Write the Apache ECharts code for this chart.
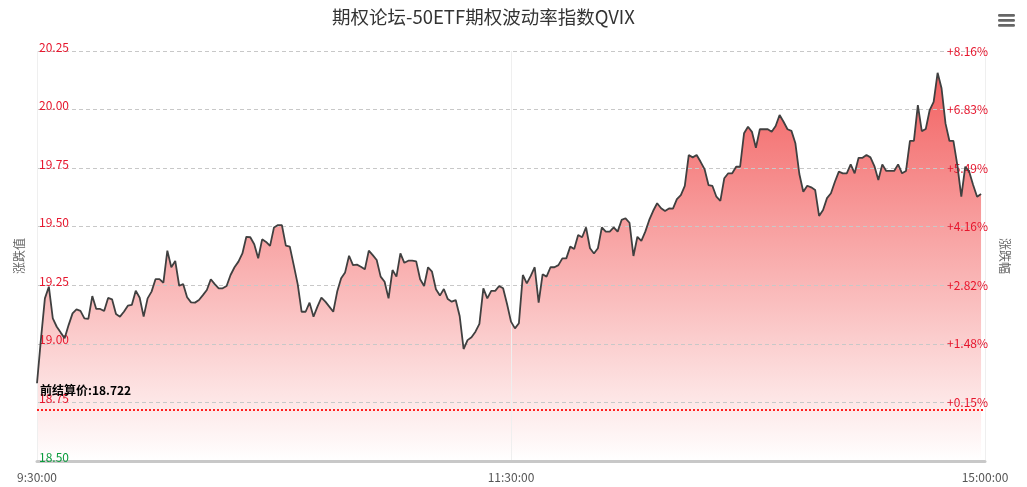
<!DOCTYPE html>
<html>
<head>
<meta charset="utf-8">
<script src="https://cdn.jsdelivr.net/npm/echarts@6/dist/echarts.min.js"></script>
<style>
html,body{margin:0;padding:0;background:#fff;}
#chart{width:1027px;height:487px;}
</style>
</head>
<body>
<div id="chart"></div>
<script>
// ---- data ----
const titleText = '期权论坛-50ETF期权波动率指数QVIX';
const preClose = 18.722;
const yMin = 18.5, yMax = 20.25, yStep = 0.25;
const xLabelsShown = ['9:30:00', '11:30:00', '15:00:00'];

// minute categories: 9:30..11:30, 13:01..15:00 (lunch break merged at 11:30)
const categories = [];
(function () {
  function pad(n) { return (n < 10 ? '0' : '') + n; }
  for (let m = 9 * 60 + 30; m <= 11 * 60 + 30; m++) categories.push(Math.floor(m / 60) + ':' + pad(m % 60) + ':00');
  for (let m = 13 * 60 + 1; m <= 15 * 60; m++) categories.push(Math.floor(m / 60) + ':' + pad(m % 60) + ':00');
})();

const qvixMorning = [
  18.832, 19.02, 19.194, 19.244, 19.109, 19.073, 19.048, 19.024, 19.080, 19.130,
  19.147, 19.141, 19.109, 19.107, 19.204, 19.149, 19.149, 19.140, 19.196, 19.190,
  19.127, 19.116, 19.137, 19.163, 19.166, 19.227, 19.197, 19.116, 19.194, 19.223,
  19.276, 19.276, 19.261, 19.398, 19.327, 19.354, 19.248, 19.255, 19.199, 19.177,
  19.176, 19.187, 19.208, 19.230, 19.276, 19.255, 19.237, 19.237, 19.247, 19.294,
  19.327, 19.351, 19.386, 19.457, 19.455, 19.425, 19.365, 19.446, 19.435, 19.418,
  19.497, 19.507, 19.507, 19.419, 19.415, 19.336, 19.255, 19.137, 19.137, 19.176,
  19.116, 19.159, 19.197, 19.180, 19.159, 19.137, 19.223, 19.280, 19.305, 19.376,
  19.336, 19.338, 19.329, 19.318, 19.398, 19.379, 19.358, 19.287, 19.265, 19.194,
  19.315, 19.287, 19.386, 19.346, 19.355, 19.355, 19.352, 19.276, 19.247, 19.327,
  19.308, 19.233, 19.206, 19.234, 19.191, 19.180, 19.187, 19.119, 18.978, 19.016,
  19.028, 19.052, 19.085, 19.237, 19.194, 19.226, 19.226, 19.247, 19.237, 19.170
];
const qvixAfternoon = [
  19.095, 19.066, 19.088, 19.294, 19.258, 19.290, 19.327, 19.176, 19.297, 19.287,
  19.327, 19.327, 19.336, 19.365, 19.365, 19.415, 19.405, 19.465, 19.455, 19.497,
  19.408, 19.386, 19.408, 19.497, 19.479, 19.479, 19.497, 19.479, 19.529, 19.536,
  19.517, 19.375, 19.457, 19.440, 19.479, 19.529, 19.568, 19.600, 19.579, 19.567,
  19.578, 19.577, 19.618, 19.635, 19.674, 19.806, 19.796, 19.806, 19.777, 19.746,
  19.678, 19.674, 19.628, 19.610, 19.707, 19.728, 19.728, 19.756, 19.756, 19.899,
  19.927, 19.905, 19.837, 19.916, 19.916, 19.916, 19.905, 19.930, 19.977, 19.948,
  19.916, 19.909, 19.856, 19.725, 19.649, 19.675, 19.668, 19.657, 19.546, 19.571,
  19.622, 19.643, 19.692, 19.735, 19.728, 19.728, 19.766, 19.728, 19.794, 19.794,
  19.806, 19.796, 19.759, 19.699, 19.766, 19.738, 19.738, 19.738, 19.766, 19.728,
  19.738, 19.866, 19.866, 20.019, 19.908, 19.917, 19.998, 20.033, 20.157, 20.091,
  19.941, 19.866, 19.866, 19.763, 19.628, 19.756, 19.735, 19.678, 19.628, 19.640
];
const qvix = qvixMorning.concat(qvixAfternoon);

// ---- chart ----
const FONT = '"Microsoft YaHei","Noto Sans CJK SC",sans-serif';
const chart = echarts.init(document.getElementById('chart'), null, { renderer: 'canvas' });

function leftLabelColor(v) { return v < preClose ? '#0a9c3c' : '#e6162d'; }

const option = {
  animation: false,
  backgroundColor: '#fff',
  textStyle: { fontFamily: FONT },
  title: {
    text: titleText,
    left: 327, top: 3,
    textStyle: { fontSize: 18.5, fontWeight: 'normal', color: '#333', fontFamily: FONT }
  },
  graphic: [
    { type: 'rect', right: 12, top: 14, shape: { width: 17, height: 2.7, r: 1.3 }, style: { fill: '#666' } },
    { type: 'rect', right: 12, top: 19, shape: { width: 17, height: 2.7, r: 1.3 }, style: { fill: '#666' } },
    { type: 'rect', right: 12, top: 24, shape: { width: 17, height: 2.7, r: 1.3 }, style: { fill: '#666' } }
  ],
  grid: { left: 37, right: 42, top: 51, bottom: 26, containLabel: false },
  xAxis: {
    type: 'category',
    data: categories,
    boundaryGap: false,
    z: 3,
    axisLine: { show: true, lineStyle: { color: '#c8c8c8', width: 3 } },
    axisTick: { show: false },
    axisLabel: {
      interval: function (i) { return xLabelsShown.indexOf(categories[i]) >= 0 || i === categories.length - 1; },
      formatter: function (v, i) { return i === categories.length - 1 ? xLabelsShown[2] : v; },
      color: '#555', fontSize: 12, margin: 10, fontFamily: FONT, showMinLabel: true, showMaxLabel: true
    },
    splitLine: {
      show: true,
      interval: function (i) { return i === 0 || categories[i] === xLabelsShown[1] || i === categories.length - 1; },
      lineStyle: { color: '#efefef', width: 1 }
    }
  },
  yAxis: [
    {
      type: 'value', min: yMin, max: yMax, interval: yStep, z: 3,
      name: '涨跌值', nameLocation: 'middle', nameGap: 12,
      nameTextStyle: { color: '#666', fontSize: 12, fontFamily: FONT },
      axisLine: { show: false }, axisTick: { show: false },
      axisLabel: {
        inside: true, margin: 2, verticalAlign: 'bottom', lineHeight: 8,
        fontSize: 12, fontFamily: FONT,
        formatter: function (v) { return v.toFixed(2); },
        color: function (v) { return leftLabelColor(Number(v)); }
      },
      splitLine: { show: true, lineStyle: { color: '#c8c8c8', type: [4, 3], width: 1 } }
    },
    {
      type: 'value', min: yMin, max: yMax, interval: yStep, position: 'right', z: 3,
      name: '涨跌幅', nameLocation: 'middle', nameGap: 12, nameRotate: -90,
      nameTextStyle: { color: '#666', fontSize: 12, fontFamily: FONT },
      axisLine: { show: false }, axisTick: { show: false },
      axisLabel: {
        inside: true, margin: -3, fontSize: 12, fontFamily: FONT, color: '#e6162d',
        formatter: function (v) {
          if (v < preClose) return '';
          return '+' + ((v - preClose) / preClose * 100).toFixed(2) + '%';
        }
      },
      splitLine: { show: false }
    }
  ],
  series: [
    {
      type: 'line',
      name: 'QVIX-area',
      data: qvix,
      yAxisIndex: 0,
      z: 1,
      showSymbol: false,
      symbol: 'none',
      silent: true,
      lineStyle: { width: 0, opacity: 0 },
      areaStyle: {
        opacity: 1,
        color: new echarts.graphic.LinearGradient(0, 51, 0, 461, [
          { offset: 0, color: 'rgb(242,88,88)' },
          { offset: 1, color: 'rgb(255,255,255)' }
        ], true)
      }
    },
    {
      type: 'line',
      name: 'QVIX',
      data: qvix,
      yAxisIndex: 0,
      z: 5,
      showSymbol: false,
      symbol: 'none',
      lineStyle: { color: '#404040', width: 1.8 },
      itemStyle: { color: '#404040' },
      markLine: {
        silent: true,
        symbol: 'none',
        animation: false,
        data: [{ yAxis: preClose }],
        lineStyle: { color: '#ff2020', type: 'dotted', width: 2 },
        label: {
          position: 'insideStartTop',
          formatter: '前结算价:' + preClose,
          color: '#000', fontWeight: 'bold', fontSize: 12, fontFamily: FONT,
          distance: [3, 13]
        },
        emphasis: { disabled: true }
      }
    }
  ]
};
chart.setOption(option);
</script>
</body>
</html>
